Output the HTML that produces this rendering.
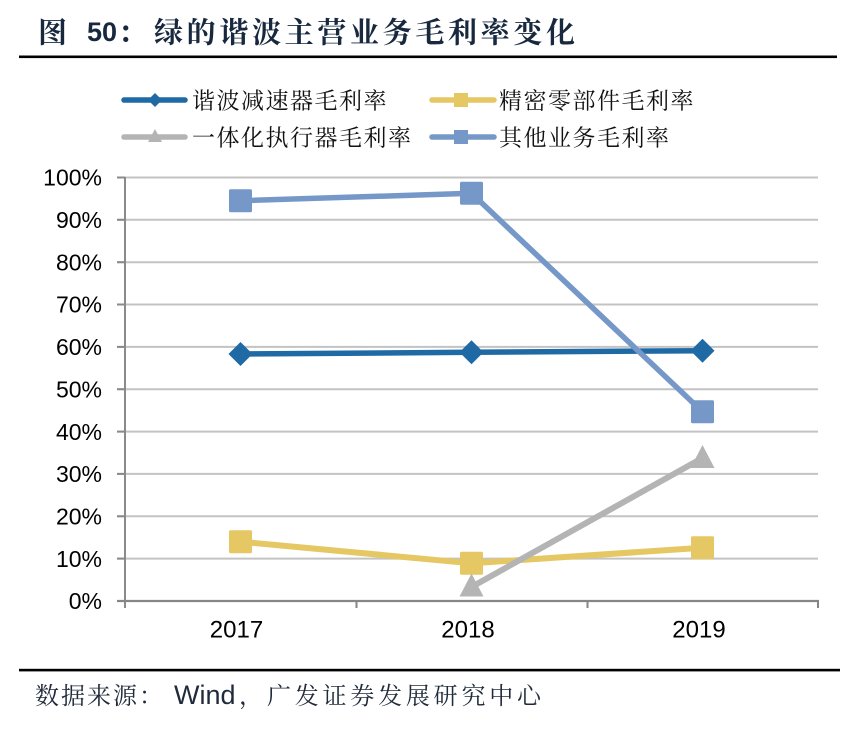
<!DOCTYPE html>
<html>
<head>
<meta charset="utf-8">
<style>
html,body{margin:0;padding:0;background:#fff;}
svg{display:block;}
.cjk{font-family:"Liberation Serif","Noto Serif CJK SC","Noto Sans CJK SC",serif;}
.lat{font-family:"Liberation Sans",Arial,sans-serif;}
</style>
</head>
<body>
<svg width="849" height="731" viewBox="0 0 849 731" xmlns="http://www.w3.org/2000/svg">
  <rect x="0" y="0" width="849" height="731" fill="#fff"/>

  <!-- Title -->
  <g fill="#17283f">
    <text class="cjk" x="38" y="42.5" font-size="29" font-weight="700">图</text>
    <text class="lat" x="87" y="41" font-size="27" font-weight="700">50</text>
    <text class="cjk" x="118" y="42.5" font-size="29" font-weight="700">：</text>
    <text class="cjk" x="154" y="42.5" font-size="29" font-weight="700" textLength="421" lengthAdjust="spacing">绿的谐波主营业务毛利率变化</text>
  </g>
  <rect x="19" y="55.5" width="818" height="2.6" fill="#000"/>

  <!-- Legend -->
  <g>
    <line x1="124" y1="100" x2="185" y2="100" stroke="#1f6aa5" stroke-width="5.5" stroke-linecap="round"/>
    <polygon points="155,93 162,100 155,107 148,100" fill="#1f6aa5"/>
    <text class="cjk" x="192" y="108.5" font-size="23" letter-spacing="1.5" fill="#111">谐波减速器毛利率</text>

    <line x1="432" y1="100" x2="494" y2="100" stroke="#e5c763" stroke-width="5.5" stroke-linecap="round"/>
    <rect x="454" y="93" width="14" height="14" fill="#e5c763"/>
    <text class="cjk" x="499" y="108.5" font-size="23" letter-spacing="1.5" fill="#111">精密零部件毛利率</text>

    <line x1="124" y1="137" x2="185" y2="137" stroke="#b4b4b4" stroke-width="5.5" stroke-linecap="round"/>
    <polygon points="155,129 162,142 148,142" fill="#b4b4b4"/>
    <text class="cjk" x="192" y="145.5" font-size="23" letter-spacing="1.5" fill="#111">一体化执行器毛利率</text>

    <line x1="432" y1="137" x2="494" y2="137" stroke="#7698c8" stroke-width="5.5" stroke-linecap="round"/>
    <rect x="454" y="130" width="14" height="14" fill="#7698c8"/>
    <text class="cjk" x="499" y="145.5" font-size="23" letter-spacing="1.5" fill="#111">其他业务毛利率</text>
  </g>

  <!-- Gridlines -->
  <g stroke="#c3c3c3" stroke-width="2">
    <line x1="117" y1="177.5" x2="818" y2="177.5"/>
    <line x1="117" y1="219.8" x2="818" y2="219.8"/>
    <line x1="117" y1="262.2" x2="818" y2="262.2"/>
    <line x1="117" y1="304.5" x2="818" y2="304.5"/>
    <line x1="117" y1="346.9" x2="818" y2="346.9"/>
    <line x1="117" y1="389.2" x2="818" y2="389.2"/>
    <line x1="117" y1="431.6" x2="818" y2="431.6"/>
    <line x1="117" y1="473.9" x2="818" y2="473.9"/>
    <line x1="117" y1="516.3" x2="818" y2="516.3"/>
    <line x1="117" y1="558.6" x2="818" y2="558.6"/>
  </g>
  <g stroke="#8a8a8a" stroke-width="2">
    <line x1="117" y1="177.5" x2="125" y2="177.5"/>
    <line x1="117" y1="219.8" x2="125" y2="219.8"/>
    <line x1="117" y1="262.2" x2="125" y2="262.2"/>
    <line x1="117" y1="304.5" x2="125" y2="304.5"/>
    <line x1="117" y1="346.9" x2="125" y2="346.9"/>
    <line x1="117" y1="389.2" x2="125" y2="389.2"/>
    <line x1="117" y1="431.6" x2="125" y2="431.6"/>
    <line x1="117" y1="473.9" x2="125" y2="473.9"/>
    <line x1="117" y1="516.3" x2="125" y2="516.3"/>
    <line x1="117" y1="558.6" x2="125" y2="558.6"/>
    <line x1="117" y1="601" x2="125" y2="601"/>
  </g>
  <!-- Axes -->
  <line x1="125" y1="177" x2="125" y2="608" stroke="#8a8a8a" stroke-width="2"/>
  <line x1="117" y1="601" x2="819" y2="601" stroke="#868686" stroke-width="2.2"/>
  <g stroke="#868686" stroke-width="2">
    <line x1="356.5" y1="601" x2="356.5" y2="608"/>
    <line x1="587.5" y1="601" x2="587.5" y2="608"/>
    <line x1="818" y1="601" x2="818" y2="608"/>
  </g>

  <!-- Y labels -->
  <g class="lat" font-size="23" fill="#000" text-anchor="end">
    <text x="102" y="185.7">100%</text>
    <text x="102" y="228">90%</text>
    <text x="102" y="270.4">80%</text>
    <text x="102" y="312.7">70%</text>
    <text x="102" y="355.1">60%</text>
    <text x="102" y="397.4">50%</text>
    <text x="102" y="439.8">40%</text>
    <text x="102" y="482.1">30%</text>
    <text x="102" y="524.5">20%</text>
    <text x="102" y="566.8">10%</text>
    <text x="102" y="609.2">0%</text>
  </g>

  <!-- X labels -->
  <g class="lat" font-size="24" fill="#000" text-anchor="middle">
    <text x="236.5" y="637.5">2017</text>
    <text x="468" y="637.5">2018</text>
    <text x="699" y="637.5">2019</text>
  </g>

  <!-- Series 1 -->
  <polyline points="240.5,354 471.5,352.3 702.5,350.7" fill="none" stroke="#1f6aa5" stroke-width="5.5" stroke-linejoin="round"/>
  <g fill="#1f6aa5">
    <polygon points="240.5,342 252.5,354 240.5,366 228.5,354"/>
    <polygon points="471.5,340.3 483.5,352.3 471.5,364.3 459.5,352.3"/>
    <polygon points="702.5,338.7 714.5,350.7 702.5,362.7 690.5,350.7"/>
  </g>

  <!-- Series 2 -->
  <polyline points="240.5,541.7 471.5,563.3 702.5,547.7" fill="none" stroke="#e5c763" stroke-width="6" stroke-linejoin="round"/>
  <g fill="#e5c763">
    <rect x="229" y="530.2" width="23" height="23" rx="1.5"/>
    <rect x="460" y="551.8" width="23" height="23" rx="1.5"/>
    <rect x="691" y="536.2" width="23" height="23" rx="1.5"/>
  </g>

  <!-- Series 3 -->
  <polyline points="471.5,587 702.5,458" fill="none" stroke="#b4b4b4" stroke-width="6" stroke-linejoin="round"/>
  <g fill="#b4b4b4">
    <polygon points="471.5,573.5 483.5,596.5 459.5,596.5"/>
    <polygon points="702.5,445 714.5,468 690.5,468"/>
  </g>

  <!-- Series 4 -->
  <polyline points="240.5,200.7 471.5,193.3 702.5,411.7" fill="none" stroke="#7698c8" stroke-width="5.5" stroke-linejoin="round"/>
  <g fill="#7698c8">
    <rect x="229" y="189.2" width="23" height="23" rx="1.5"/>
    <rect x="460" y="181.8" width="23" height="23" rx="1.5"/>
    <rect x="691" y="400.2" width="23" height="23" rx="1.5"/>
  </g>

  <!-- Footer -->
  <rect x="19" y="668.8" width="821" height="2.6" fill="#000"/>
  <g fill="#1f2a3a">
    <text class="cjk" x="35" y="704" font-size="24" textLength="128" lengthAdjust="spacing">数据来源：</text>
    <text class="lat" x="174" y="704" font-size="27">Wind</text>
    <text class="cjk" x="239" y="704" font-size="24">，</text>
    <text class="cjk" x="267" y="704" font-size="24" textLength="274" lengthAdjust="spacing">广发证券发展研究中心</text>
  </g>
</svg>
</body>
</html>
